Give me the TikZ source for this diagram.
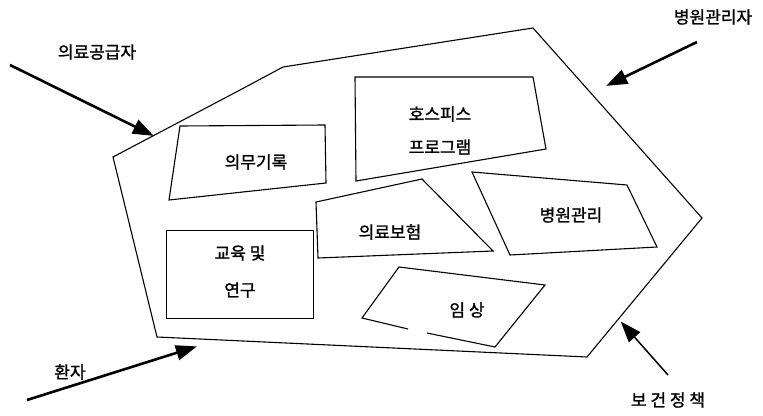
\documentclass[tikz,border=0pt]{standalone}
\usepackage{fontspec}
\setmainfont{Noto Sans CJK KR}[FakeBold=1.3]
\usetikzlibrary{arrows.meta}

\tikzset{
	area/.style={line width=1.1pt, line join=miter},
	label/.style={inner sep=0pt, font=\fontsize{17}{20}\selectfont},
	force/.style={line width=2.6pt, -{Triangle[length=21pt,width=15pt]}, shorten >=-2pt},
}

\begin{document}
\begin{tikzpicture}[x=1pt,y=-1pt]
		\useasboundingbox (0,0) rectangle (763,415);
		% outer field
		\draw[area] (113,157) -- (240,90) -- (283,67) -- (533,28) -- (702,218) -- (587,357) -- (157,337) -- cycle;
		% inner parts
		\draw[area] (180,126) -- (325,125) -- (326,183) -- (169,200) -- cycle;
		\node[label] (record) at (256,162) {의무기록};
		\draw[area] (355,77) -- (533,77) -- (546,149) -- (356,181) -- cycle;
		\node[label] (hospice) at (440,114) {호스피스};
		\node[label] (program) at (440,147) {프로그램};
		\draw[area] (316,202) -- (422,179) -- (493,251) -- (318,258) -- cycle;
		\node[label] (insure) at (390,232) {의료보험};
		\draw[area] (472,172) -- (627,185) -- (657,247) -- (510,255) -- cycle;
		\node[label] (admin) at (571,215) {병원관리};
		\draw[area] (166.5,230.5) rectangle (313.5,318.5);
		\node[label] (edu) at (240,253) {교육 및};
		\node[label] (research) at (240,290) {연구};
		\draw[area] (408,329) -- (362,318) -- (399,267) -- (545,285) -- (495,347) -- (427,333);
		\node[label] (clinic) at (467,310) {임 상};
		% actors outside
		\node[label] (supplier) at (97,52) {의료공급자};
		\node[label] (manager) at (713,17) {병원관리자};
		\node[label] (patient) at (70,372) {환자};
		\node[label] (policy) at (668,400) {보 건 정 책};
		\coordinate (s0) at (10,65);  \coordinate (s1) at (152,135);
		\coordinate (m0) at (697,42); \coordinate (m1) at (608,85);
		\coordinate (p0) at (27,400); \coordinate (p1) at (195,347);
		\coordinate (h0) at (668,375); \coordinate (h1) at (622,323);
		\draw[force] (s0) -- (s1);
		\draw[force] (m0) -- (m1);
		\draw[force] (p0) -- (p1);
		\draw[force, line width=1.5pt] (h0) -- (h1);
\end{tikzpicture}
\end{document}
